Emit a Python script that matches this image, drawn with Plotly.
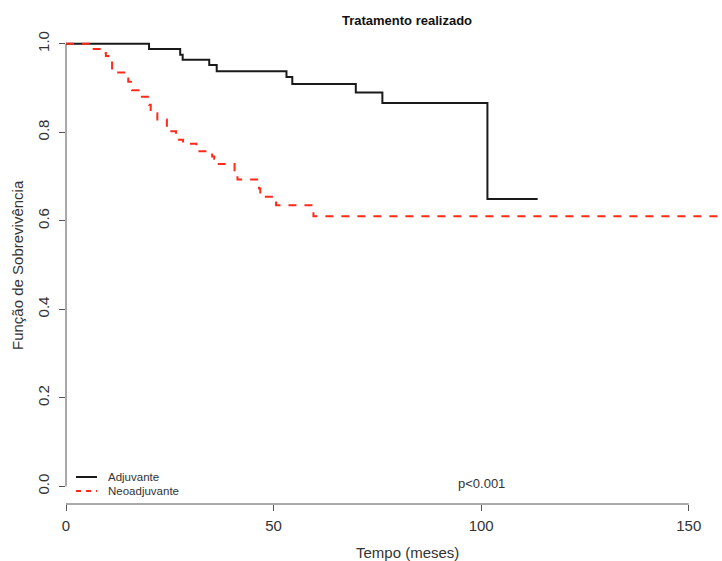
import plotly.graph_objects as go

# ---- data ----
adj_time = [0, 20.0, 27.5, 28.1, 34.5, 36.3, 53.1, 54.5, 69.8, 76.2, 101.5, 113.6]
adj_surv = [1.0, 0.988, 0.975, 0.964, 0.952, 0.938, 0.925, 0.909, 0.890, 0.866, 0.649, 0.649]

neo_time = [0, 5.5, 8.8, 9.6, 10.2, 11.1, 14.0, 15.0, 15.9, 18.0, 20.0, 20.4, 22.0,
            24.3, 26.5, 28.2, 31.4, 35.2, 35.7, 36.8, 40.6, 41.3, 46.5, 46.8,
            50.6, 59.6, 158.0]
neo_surv = [1.0, 0.988, 0.979, 0.972, 0.962, 0.935, 0.926, 0.914, 0.895, 0.880,
            0.862, 0.843, 0.829, 0.802, 0.783, 0.774, 0.757, 0.745, 0.740, 0.728,
            0.710, 0.693, 0.673, 0.654, 0.635, 0.610, 0.610]

series_names = ["Adjuvante", "Neoadjuvante"]
series_colors = ["#1a1a1a", "#ff2a1a"]
series_dash = ["solid", "8px,8px"]

x_ticks = [0, 50, 100, 150]
y_ticks = [0.0, 0.2, 0.4, 0.6, 0.8, 1.0]
y_tick_text = ["0.0", "0.2", "0.4", "0.6", "0.8", "1.0"]

title_text = "Tratamento realizado"
x_title = "Tempo (meses)"
y_title = "Função de Sobrevivência"
p_text = "p<0.001"

FONT = "Liberation Sans, Arial, sans-serif"
TXT = "#333333"
AX = "#555555"

fig = go.Figure()
for name, t, s, c, d in zip(series_names, [adj_time, neo_time], [adj_surv, neo_surv],
                            series_colors, series_dash):
    fig.add_trace(go.Scatter(x=t, y=s, mode="lines", name=name,
                             line=dict(color=c, width=2, dash=d, shape="hv"),
                             showlegend=False, hoverinfo="skip"))

W, H = 722, 561
ml, mr, mt, mb = 66, 0, 26, 57
pw, ph = W - ml - mr, H - mt - mb

def px_x(p):  # pixel x -> paper x
    return (p - ml) / pw

def px_y(p):  # pixel y -> paper y
    return (H - mb - p) / ph

fig.update_layout(
    width=W, height=H,
    margin=dict(l=ml, r=mr, t=mt, b=mb, pad=0),
    paper_bgcolor="white", plot_bgcolor="white",
    font=dict(family=FONT, color=TXT),
    title=dict(text="<b>" + title_text + "</b>", x=407 / W, xref="container", xanchor="center",
               y=1 - 20 / H, yref="container", yanchor="middle",
               font=dict(size=13, color="#111111", family=FONT)),
    xaxis=dict(range=[0, 158], showgrid=False, zeroline=False, showline=False,
               tickvals=x_ticks, ticktext=[str(v) for v in x_ticks],
               ticks="outside", ticklen=6, tickwidth=1, tickcolor=AX,
               ticklabelstandoff=2,
               tickfont=dict(size=15, color=TXT)),
    yaxis=dict(range=[-0.04, 1.04], showgrid=False, zeroline=False, showline=False,
               tickvals=y_ticks, ticktext=y_tick_text, tickangle=-90,
               ticks="outside", ticklen=6, tickwidth=1, tickcolor=AX,
               ticklabelstandoff=4,
               tickfont=dict(size=15, color=TXT)),
)

# axis lines spanning only the tick range (R style)
fig.add_shape(type="line", xref="paper", yref="y", x0=0, x1=0,
              y0=min(y_ticks), y1=max(y_ticks), line=dict(color=AX, width=1))
fig.add_shape(type="line", xref="x", yref="paper", x0=min(x_ticks), x1=max(x_ticks),
              y0=0, y1=0, line=dict(color=AX, width=1))

# axis titles
fig.add_annotation(text=x_title, xref="paper", yref="paper", x=px_x(407), y=px_y(552),
                   showarrow=False, font=dict(size=15, color=TXT), xanchor="center", yanchor="middle")
fig.add_annotation(text=y_title, xref="paper", yref="paper", x=px_x(17), y=0.5,
                   showarrow=False, textangle=-90, font=dict(size=15, color=TXT),
                   xanchor="center", yanchor="middle")

# p-value
fig.add_annotation(text=p_text, xref="x", yref="paper", x=100, y=px_y(483),
                   showarrow=False, font=dict(size=13, color=TXT), xanchor="center", yanchor="middle")

# manual legend
leg_y = [477, 491]
for name, c, d, yy in zip(series_names, series_colors, series_dash, leg_y):
    fig.add_shape(type="line", xref="paper", yref="paper", x0=px_x(76), x1=px_x(97),
                  y0=px_y(yy), y1=px_y(yy), line=dict(color=c, width=2,
                  dash="5px,5px" if d != "solid" else "solid"))
    fig.add_annotation(text=name, xref="paper", yref="paper", x=px_x(106), y=px_y(yy),
                       showarrow=False, xanchor="left", yanchor="middle",
                       font=dict(size=11.5, color=TXT))

fig.write_html("out.html")
